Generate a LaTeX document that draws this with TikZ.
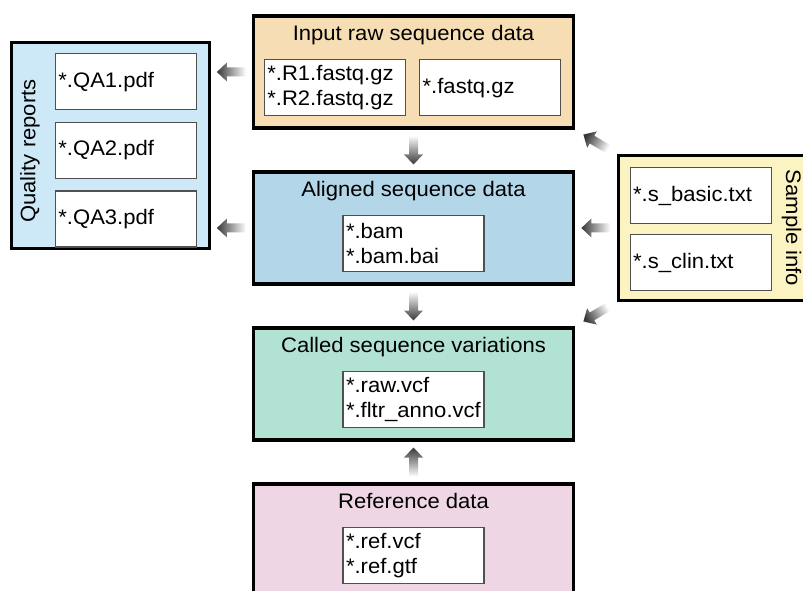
\documentclass[tikz,border=0pt]{standalone}
\usepackage{fontspec}
\setmainfont{Liberation Sans}[FakeStretch=1.05]
\usepackage{tikz}
\usetikzlibrary{
positioning,
calc
}
\definecolor{inputfill}{HTML}{F6DDB3}
\definecolor{alignfill}{HTML}{B3D6E8}
\definecolor{callfill}{HTML}{B2E2D3}
\definecolor{reffill}{HTML}{EED6E4}
\definecolor{qafill}{HTML}{CDE8F6}
\definecolor{samplefill}{HTML}{FBF3C2}
\definecolor{fileline}{HTML}{505050}
\definecolor{arrowgray}{HTML}{383838}

\newcommand{\flowarrow}[2]{%
\coordinate (fa-mid) at ($(#1)!.5!(#2)$);
\path let \p1=(#1), \p2=(#2) in
\pgfextra{\pgfmathparse{atan2(\y2-\y1,\x2-\x1)}\xdef\faangle{\pgfmathresult}};
\pgfmathsetmacro\fashade{\faangle-90}
\shade[top color=arrowgray, bottom color=white, shading angle=\fashade,
shift={(fa-mid)}, rotate=\faangle]
(-14.5,-4.5) -- (4.5,-4.5) -- (4.5,-9.5) -- (14.5,0) -- (4.5,9.5)
-- (4.5,4.5) -- (-14.5,4.5) -- cycle;
}

\begin{document}
\begin{tikzpicture}[
x=1pt, y=1pt,
node distance=40.5pt,
font=\fontsize{21}{25}\selectfont,
stage/.style={
rectangle,
draw=black,
line width=3.5pt,
minimum width=320pt,
minimum height=112pt,
inner sep=0pt
},
side/.style={
rectangle,
draw=black,
line width=3pt,
inner sep=0pt
},
file/.style={
rectangle,
draw=fileline,
line width=1.2pt,
fill=white,
minimum width=141pt,
minimum height=56pt,
text width=135pt,
inner sep=3pt,
align=left
},
title/.style={anchor=base, inner sep=0pt}
]
\useasboundingbox (0,0) rectangle (803,590);

\node[stage, fill=inputfill] (input) at (413.5,518) {};
\node[stage, fill=alignfill, below=of input] (aligned) {};
\node[stage, fill=callfill, below=of aligned] (called) {};
\node[stage, fill=reffill, below=of called] (reference) {};

\node[title, below=26pt of input.north, anchor=base] (inputtitle) {Input raw sequence data};
\node[title, below=26pt of aligned.north, anchor=base] (alignedtitle) {Aligned sequence data};
\node[title, below=26pt of called.north, anchor=base] (calledtitle) {Called sequence variations};
\node[title, below=26pt of reference.north, anchor=base] (reftitle) {Reference data};

\node[file, below right=45pt and 12pt of input.north west] (fastqpair) {*.R1.fastq.gz\\{}*.R2.fastq.gz};
\node[file, below left=45pt and 14pt of input.north east] (fastq) {*.fastq.gz};
\node[file, below=45pt of aligned.north] (bam) {*.bam\\{}*.bam.bai};
\node[file, below=45pt of called.north] (vcf) {*.raw.vcf\\{}*.fltr\_anno.vcf};
\node[file, below=45pt of reference.north] (ref) {*.ref.vcf\\{}*.ref.gtf};

\node[side, fill=qafill, minimum width=198pt, minimum height=206pt] (quality) at (110.5,444.5) {};
\node[file, below left=12pt and 14pt of quality.north east] (qa1) {*.QA1.pdf};
\node[file, below=11.5pt of qa1] (qa2) {*.QA2.pdf};
\node[file, below=11.5pt of qa2] (qa3) {*.QA3.pdf};
\node[rotate=90, inner sep=0pt] (qalabel) at ($(quality.west)+(20,-5.5)$) {Quality reports};

\node[side, fill=samplefill, minimum width=197pt, minimum height=145pt] (sample) at (716.5,362) {};
\node[file, below right=13pt and 13pt of sample.north west] (sbasic) {*.s\_basic.txt};
\node[file, below=10pt of sbasic] (sclin) {*.s\_clin.txt};
\node[rotate=-90, inner sep=0pt] (samplelabel) at ($(sample.east)+(-25,0)$) {Sample info};

\flowarrow{input.west}{quality.east |- input.west}
\flowarrow{aligned.west}{quality.east |- aligned.west}
\flowarrow{input.south}{aligned.north}
\flowarrow{aligned.south}{called.north}
\flowarrow{reference.north}{called.south}
\flowarrow{sample.north west}{input.south east}
\flowarrow{sample.west |- aligned.east}{aligned.east}
\flowarrow{sample.south west}{called.north east}

\end{tikzpicture}
\end{document}
